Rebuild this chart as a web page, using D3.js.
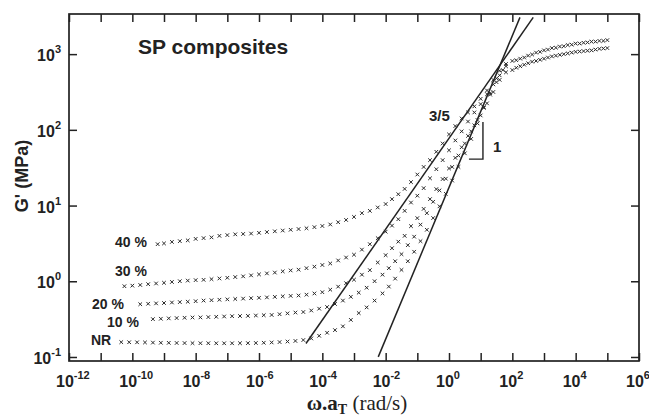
<!DOCTYPE html>
<html>
<head>
<meta charset="utf-8">
<script src="https://cdn.jsdelivr.net/npm/d3@7"></script>
<style>
  body { margin: 0; background: #fff; }
  text { fill: #222; }
</style>
</head>
<body>
<svg id="chart" width="649" height="418"></svg>
<script>
// master curves, [log10(w.aT), log10(G')]
var nr = [[-10.35,-0.804],[-10.1,-0.805],[-9.85,-0.806],[-9.6,-0.808],[-9.35,-0.81],[-9.1,-0.812],[-8.85,-0.813],[-8.6,-0.815],[-8.35,-0.816],[-8.1,-0.817],[-7.85,-0.818],[-7.6,-0.818],[-7.35,-0.819],[-7.1,-0.819],[-6.85,-0.819],[-6.6,-0.818],[-6.35,-0.817],[-6.1,-0.815],[-5.85,-0.812],[-5.6,-0.808],[-5.35,-0.803],[-5.1,-0.796],[-4.85,-0.788],[-4.6,-0.776],[-4.35,-0.755],[-4.1,-0.72],[-3.85,-0.68],[-3.6,-0.645],[-3.35,-0.595],[-3.1,-0.51],[-2.85,-0.42],[-2.6,-0.345],[-2.35,-0.255],[-2.1,-0.16],[-1.9,-0.07],[-1.7,0.035],[-1.5,0.15],[-1.3,0.265],[-1.1,0.39],[-0.9,0.53],[-0.7,0.68],[-0.5,0.835],[-0.3,0.99],[-0.1,1.155],[0.1,1.33],[0.3,1.51],[0.5,1.69],[0.7,1.88],[0.9,2.085],[1.1,2.29],[1.3,2.485],[1.5,2.68]];

var s10 = [[-9.35,-0.50],[-9.1,-0.495],[-8.85,-0.49],[-8.6,-0.486],[-8.35,-0.482],[-8.1,-0.478],[-7.85,-0.477],[-7.6,-0.473],[-7.35,-0.469],[-7.1,-0.465],[-6.85,-0.461],[-6.6,-0.459],[-6.35,-0.457],[-6.1,-0.452],[-5.85,-0.448],[-5.6,-0.445],[-5.35,-0.435],[-5.1,-0.424],[-4.85,-0.413],[-4.6,-0.406],[-4.35,-0.386],[-4.1,-0.362],[-3.85,-0.34],[-3.6,-0.30],[-3.35,-0.255],[-3.1,-0.205],[-2.85,-0.15],[-2.6,-0.085],[-2.35,0.001],[-2.1,0.087],[-1.9,0.173],[-1.7,0.265],[-1.5,0.358],[-1.3,0.477],[-1.1,0.589],[-0.9,0.748],[-0.7,0.90],[-0.5,1.05],[-0.3,1.20],[-0.1,1.355],[0.1,1.51],[0.3,1.66],[0.5,1.82],[0.7,1.98],[0.9,2.13],[1.1,2.30],[1.3,2.465],[1.5,2.63],[1.7,2.79],
  [2.125,2.82],[2.375,2.86],[2.625,2.90],[2.875,2.925],[3.125,2.955],[3.375,2.98],[3.625,3.0],[3.875,3.02],[4.125,3.035],[4.375,3.045],[4.625,3.06],[4.875,3.075]];

var s20 = [[-9.75,-0.303],[-9.5,-0.297],[-9.25,-0.292],[-9.0,-0.287],[-8.75,-0.28],[-8.5,-0.275],[-8.25,-0.27],[-8.0,-0.263],[-7.75,-0.255],[-7.5,-0.25],[-7.25,-0.244],[-7.0,-0.239],[-6.75,-0.234],[-6.5,-0.229],[-6.25,-0.223],[-6.0,-0.218],[-5.75,-0.213],[-5.5,-0.206],[-5.25,-0.199],[-5.0,-0.193],[-4.75,-0.188],[-4.5,-0.177],[-4.25,-0.161],[-4.0,-0.144],[-3.75,-0.111],[-3.5,-0.071],[-3.25,-0.025],[-3.0,0.021],[-2.75,0.087],[-2.5,0.147],[-2.25,0.248],[-2.0,0.345],[-1.8,0.437],[-1.6,0.523],[-1.4,0.60],[-1.2,0.728],[-1.0,0.834],[-0.8,0.956],[-0.6,1.085],[-0.4,1.217],[-0.2,1.35],[0.0,1.49],[0.2,1.63],[0.4,1.77],[0.6,1.92],[0.8,2.06],[1.0,2.19],[1.2,2.35],[1.4,2.50],[1.6,2.66],[1.8,2.76],
  [2.0,2.79],[2.25,2.84],[2.5,2.88],[2.75,2.91],[3.0,2.94],[3.25,2.97],[3.5,2.99],[3.75,3.01],[4.0,3.03],[4.25,3.04],[4.5,3.05],[4.75,3.07],[5.0,3.08]];

var s30 = [[-10.25,-0.065],[-10.0,-0.058],[-9.75,-0.049],[-9.5,-0.038],[-9.25,-0.029],[-9.0,-0.02],[-8.75,-0.009],[-8.5,0.001],[-8.25,0.009],[-8.0,0.015],[-7.75,0.019],[-7.5,0.028],[-7.25,0.037],[-7.0,0.046],[-6.75,0.056],[-6.5,0.065],[-6.25,0.078],[-6.0,0.091],[-5.75,0.104],[-5.5,0.115],[-5.25,0.131],[-5.0,0.143],[-4.75,0.153],[-4.5,0.173],[-4.25,0.193],[-4.0,0.215],[-3.75,0.235],[-3.5,0.275],[-3.25,0.314],[-3.0,0.351],[-2.75,0.418],[-2.5,0.49],[-2.25,0.569],[-2.0,0.655],[-1.8,0.735],[-1.6,0.82],[-1.4,0.93],[-1.2,1.04],[-1.0,1.13],[-0.8,1.23],[-0.6,1.36],[-0.4,1.48],[-0.2,1.60],[0.0,1.73],[0.2,1.86],[0.4,1.98],[0.6,2.11],[0.8,2.23],[1.0,2.34],[1.2,2.47],[1.4,2.60],[1.6,2.72],[1.8,2.84],
  [2.125,2.92],[2.375,2.955],[2.625,2.995],[2.875,3.03],[3.125,3.06],[3.375,3.085],[3.625,3.105],[3.875,3.125],[4.125,3.14],[4.375,3.155],[4.625,3.165],[4.875,3.175]];

var s40 = [[-9.2,0.49],[-9.0,0.50],[-8.75,0.52],[-8.5,0.53],[-8.25,0.54],[-8.0,0.56],[-7.75,0.57],[-7.5,0.58],[-7.25,0.60],[-7.0,0.61],[-6.75,0.62],[-6.5,0.625],[-6.25,0.63],[-6.0,0.64],[-5.75,0.65],[-5.5,0.66],[-5.25,0.67],[-5.0,0.68],[-4.75,0.69],[-4.5,0.70],[-4.25,0.715],[-4.0,0.73],[-3.75,0.75],[-3.5,0.78],[-3.25,0.81],[-3.0,0.85],[-2.75,0.90],[-2.5,0.93],[-2.25,0.975],[-2.0,1.02],[-1.8,1.085],[-1.6,1.15],[-1.4,1.22],[-1.2,1.31],[-1.0,1.41],[-0.8,1.51],[-0.6,1.60],[-0.4,1.71],[-0.2,1.82],[0.0,1.94],[0.2,2.05],[0.4,2.15],[0.6,2.23],[0.8,2.31],[1.0,2.41],[1.2,2.52],[1.4,2.66],[1.6,2.78],[1.8,2.87],
  [2.0,2.91],[2.25,2.94],[2.5,2.98],[2.75,3.02],[3.0,3.05],[3.25,3.08],[3.5,3.10],[3.75,3.12],[4.0,3.14],[4.25,3.15],[4.5,3.165],[4.75,3.175],[5.0,3.185]];

// power-law guide lines (slope 3/5 and slope 1), log units
var line35 = [[-4.517,-0.822],[2.66,3.485]];
var line1 = [[-2.234,-0.999],[2.241,3.485]];
// slope triangle
var triangle = [[0.63,1.613],[1.072,1.613],[1.072,2.102]];

var seriesLabels = [
  {text: "40 %", x: 115, y: 247},
  {text: "30 %", x: 115, y: 276},
  {text: "20 %", x: 92, y: 309},
  {text: "10 %", x: 107, y: 327},
  {text: "NR", x: 91, y: 345}
];

var xTickExps = d3.range(-12, 7);
var xLabelExps = [-12, -10, -8, -6, -4, -2, 0, 2, 4, 6];
var yTickExps = [-1, 0, 1, 2, 3];

var mL = 69, mR = 639, mT = 14, mB = 361;

var svg = d3.select("#chart");

var x = d3.scaleLog().domain([1e-12, 1e6]).range([mL, mR]);
var y = d3.scaleLog().domain([Math.pow(10, -1.053), Math.pow(10, 3.53)]).range([mB, mT]);

var px = function(d){ return x(Math.pow(10, d[0])) };
var py = function(d){ return y(Math.pow(10, d[1])) };

// axes: ticks only, pointing inward
var xv = xTickExps.map(function(e){ return Math.pow(10, e) });
var yv = yTickExps.map(function(e){ return Math.pow(10, e) });

svg.append("g").attr("transform", "translate(0," + mB + ")")
  .call(d3.axisBottom(x).tickValues(xv).tickSize(-8).tickFormat(""));
svg.append("g").attr("transform", "translate(0," + mT + ")")
  .call(d3.axisTop(x).tickValues(xv).tickSize(-8).tickFormat(""));
svg.append("g").attr("transform", "translate(" + mL + ",0)")
  .call(d3.axisLeft(y).tickValues(yv).tickSize(-8).tickFormat(""));
svg.append("g").attr("transform", "translate(" + mR + ",0)")
  .call(d3.axisRight(y).tickValues(yv).tickSize(-8).tickFormat(""));

svg.selectAll(".domain").remove();
svg.selectAll(".tick line").attr("stroke", "#222").attr("stroke-width", 1.5);

svg.append("rect")
  .attr("x", mL).attr("y", mT)
  .attr("width", mR - mL).attr("height", mB - mT)
  .attr("fill", "none").attr("stroke", "#222").attr("stroke-width", 1.7);

// tick labels 10^n
var xl = svg.selectAll(".xlab").data(xLabelExps).enter().append("text")
  .attr("class", "xlab")
  .attr("x", function(e){ return x(Math.pow(10, e)) - 13 })
  .attr("y", 387)
  .style("font-family", "'Liberation Sans', Arial, sans-serif")
  .style("font-weight", "bold")
  .style("font-size", "16px");
xl.append("tspan").text("10");
xl.append("tspan").attr("dy", -8).style("font-size", "11px").text(function(e){ return e });

var yl = svg.selectAll(".ylab").data(yTickExps).enter().append("text")
  .attr("class", "ylab")
  .attr("x", 61)
  .attr("y", function(e){ return y(Math.pow(10, e)) + 7 })
  .attr("text-anchor", "end")
  .style("font-family", "'Liberation Sans', Arial, sans-serif")
  .style("font-weight", "bold")
  .style("font-size", "16px");
yl.append("tspan").text("10");
yl.append("tspan").attr("dy", -8).style("font-size", "11px").text(function(e){ return e });

// guide lines
var line = d3.line().x(px).y(py);
svg.append("path").attr("d", line(line35)).attr("fill", "none").attr("stroke", "#222").attr("stroke-width", 1.5);
svg.append("path").attr("d", line(line1)).attr("fill", "none").attr("stroke", "#222").attr("stroke-width", 1.5);
svg.append("path").attr("d", line(triangle)).attr("fill", "none").attr("stroke", "#222").attr("stroke-width", 1.4);

// data points as small crosses
var cross = "M-1.8,-1.8L1.8,1.8M-1.8,1.8L1.8,-1.8";
[nr, s10, s20, s30, s40].forEach(function(s){
  svg.append("g").selectAll("path").data(s).enter().append("path")
    .attr("d", cross)
    .attr("transform", function(d){ return "translate(" + px(d) + "," + py(d) + ")" })
    .attr("stroke", "#2a2a2a")
    .attr("stroke-width", 1.0)
    .attr("fill", "none");
});

// annotations
var bold = function(sel, size){
  return sel.style("font-family", "'Liberation Sans', Arial, sans-serif")
    .style("font-weight", "bold").style("font-size", size);
};
bold(svg.append("text").attr("x", 138).attr("y", 54).text("SP composites"), "21px");
bold(svg.selectAll(".slab").data(seriesLabels).enter().append("text")
  .attr("class", "slab")
  .attr("x", function(d){ return d.x })
  .attr("y", function(d){ return d.y })
  .text(function(d){ return d.text }), "14px");
bold(svg.append("text").attr("x", 429).attr("y", 121).text("3/5"), "15px");
bold(svg.append("text").attr("x", 493).attr("y", 152).text("1"), "15px");

// axis titles
bold(svg.append("text")
  .attr("transform", "translate(28,176) rotate(-90)")
  .attr("text-anchor", "middle")
  .text("G'   (MPa)"), "18px");

var xt = svg.append("text")
  .attr("x", 357).attr("y", 410)
  .attr("text-anchor", "middle")
  .style("font-family", "'Liberation Serif', 'Times New Roman', serif")
  .style("font-size", "21px");
xt.append("tspan").style("font-weight", "bold").text("ω.a");
xt.append("tspan").attr("dy", 4).style("font-weight", "bold").style("font-size", "14px").text("T");
xt.append("tspan").attr("dy", -4).text("  (rad/s)");
</script>
</body>
</html>
